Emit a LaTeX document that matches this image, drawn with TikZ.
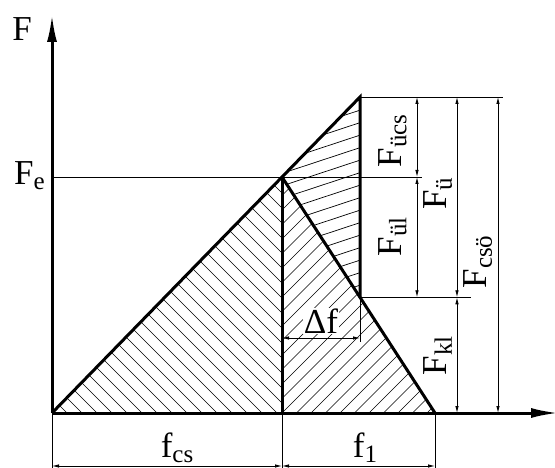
\documentclass[tikz,border=0pt]{standalone}
\usepackage{fontspec}
\setmainfont{Liberation Serif}
\usetikzlibrary{arrows.meta}
\newcommand\ix[1]{\raisebox{-5pt}{\fontsize{25}{25}\selectfont #1}}

\begin{document}
\begin{tikzpicture}[x=1pt, y=-1pt, every node/.style={font=\fontsize{35}{40}\selectfont, inner sep=0pt}, >={Latex[length=7pt,width=3.5pt]}, thk/.style={line width=3pt, line join=miter}, thn/.style={line width=0.8pt}, hatch/.style={line width=0.7pt}, dim/.style={thn, <->}, axis/.style={line width=3pt, -{Latex[length=28pt,width=10pt]}}]
	\useasboundingbox (0,0) rectangle (555,468);
	\coordinate (O) at (52,413);
	\coordinate (P) at (282,177);
	\coordinate (T) at (360,97);
	\coordinate (Q) at (360,297.3);
	\coordinate (R) at (435,413);
	\coordinate (B) at (282,413);
	\coordinate (Y) at (52,14);
	\coordinate (X) at (559,413);
	% hatching
	\begin{scope}
		\clip (O) -- (P) -- (B) -- cycle;
		\foreach \k in {1,...,32}
			\draw[hatch] (52+15*\k,413) -- ++(-260,-260);
	\end{scope}
	\begin{scope}
		\clip (B) -- (P) -- (R) -- cycle;
		\foreach \k in {-17,...,11}
			\draw[hatch] (282+14.5*\k,413) -- ++(260,-260);
	\end{scope}
	\begin{scope}
		\clip (P) -- (T) -- (Q) -- cycle;
		\foreach \k in {0,...,16}
			\draw[hatch] (365,96+12.5*\k) -- ++(-200,66);
	\end{scope}
	% extension lines
	\coordinate (e1) at (422,177);
	\coordinate (e2) at (503,97);
	\coordinate (e3) at (471,297.3);
	\coordinate (e4) at (360,342);
	\coordinate (rb) at (0,470);
	\draw[thn] (O |- P) -- (e1);
	\draw[thn] (T) -- (e2);
	\draw[thn] (Q) -- (e3);
	\draw[thn] (Q) -- (e4);
	\draw[thn] (O) -- (O |- rb);
	\draw[thn] (B) -- (B |- rb);
	\draw[thn] (R) -- (R |- rb);
	% axes and outline
	\draw[axis] (O) -- (Y);
	\draw[axis] (O) -- (X);
	\draw[thk] (O) -- (T) -- (Q);
	\draw[thk] (P) -- (R);
	\draw[thk] (P) -- (B);
	% dimensions
	\coordinate (c1) at (417,0);
	\coordinate (c2) at (457,0);
	\coordinate (c3) at (498,0);
	\coordinate (r) at (0,466);
	\coordinate (df) at (0,338);
	\draw[dim] (T -| c1) -- (P -| c1);
	\draw[dim] (P -| c1) -- (Q -| c1);
	\draw[dim] (T -| c2) -- (Q -| c2);
	\draw[dim] (Q -| c2) -- (O -| c2);
	\draw[dim] (T -| c3) -- (O -| c3);
	\draw[dim] (O |- r) -- (B |- r);
	\draw[dim] (B |- r) -- (R |- r);
	\draw[dim] (P |- df) -- (Q |- df);
	% labels
	\node (lF) at (22,29.5) {F};
	\node (lFe) at (29.5,175.5) {F\ix{e}};
	\node (lfcs) at (177,448) {f\ix{cs}};
	\node (lf1) at (365,448) {f\ix{1}};
	\node[fill=white, inner sep=1pt] (ldf) at (321,321) {Δf};
	\node[rotate=90] (lFucs) at (392.5,141) {F\ix{ücs}};
	\node[rotate=90] (lFul) at (392.5,237) {F\ix{ül}};
	\node[rotate=90] (lFu) at (438,194) {F\ix{ü}};
	\node[rotate=90] (lFcso) at (478,262) {F\ix{csö}};
	\node[rotate=90] (lFkl) at (438,356) {F\ix{kl}};
\end{tikzpicture}
\end{document}
